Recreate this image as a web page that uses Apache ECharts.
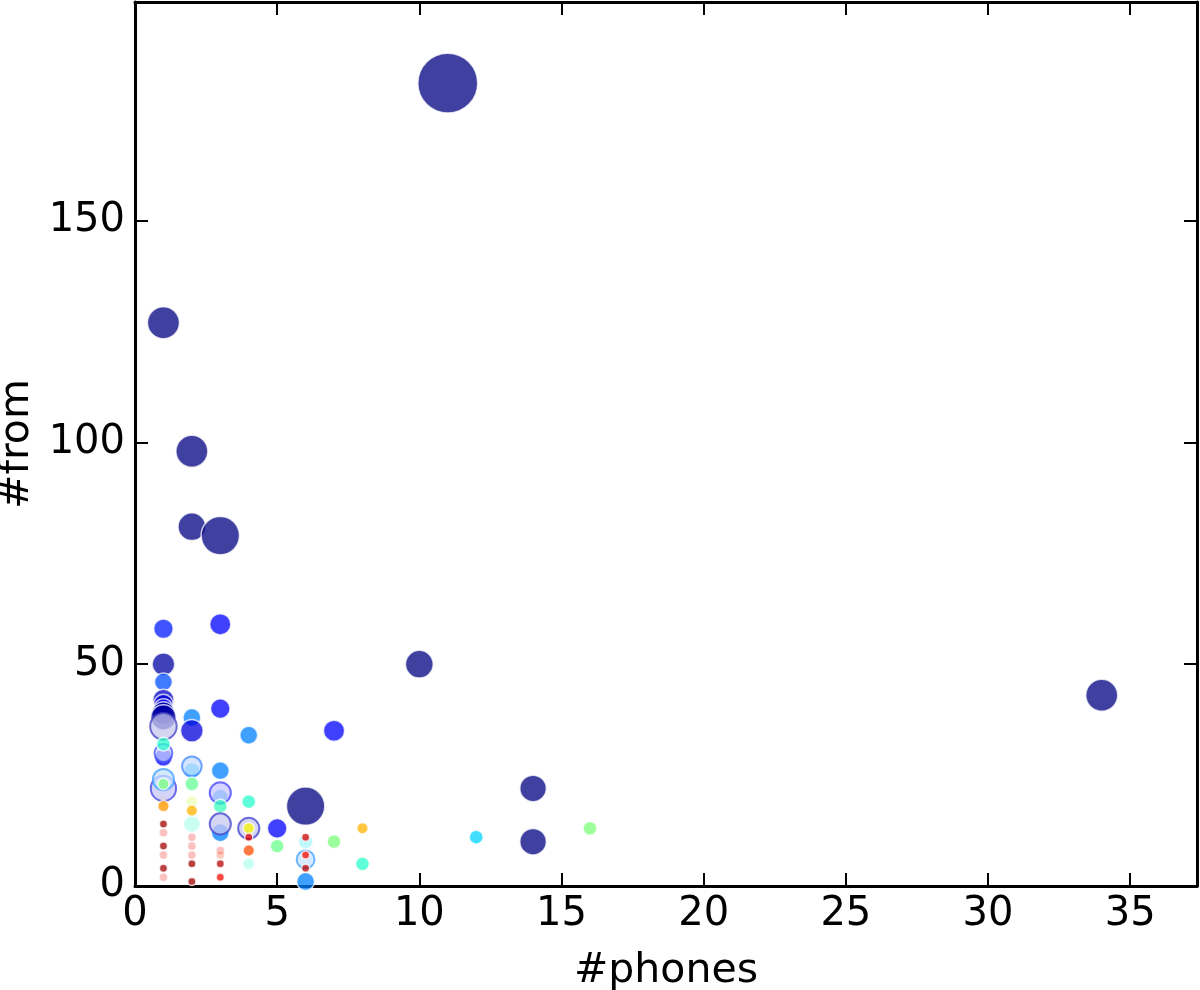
<!DOCTYPE html>
<html>
<head>
<meta charset="utf-8">
<script src="https://cdn.jsdelivr.net/npm/echarts@6/dist/echarts.min.js"></script>
<style>
html,body{margin:0;padding:0;background:#fff;}
#chart{width:1200px;height:990px;}
</style>
</head>
<body>
<div id="chart"></div>
<script>
// ---- data ----
// x = #phones, y = #from, count -> bubble area, ratio -> colour (jet), hollow -> pale ring marker
const phones = [11,1,2,2,3,34,10,6,14,14,1,
  7,3,3,5,1,1,1,1,1,1,1,1,2,2,4,3,6,
  1,1,1,1,1,1,1,1,1,1,
  2,2,2,2,2,2,
  3,3,3,3,3,3,3,
  4,4,4,4,4,5,6,6,6,6,7,8,8,12,16];
const fromCounts = [181,127,98,81,79,43,50,18,22,10,50,
  35,59,40,13,58,46,42,41,40,39,38,36,38,35,34,26,1,
  29,30,32,22,24,23,18,14,9,4,
  26,27,23,17,5,1,
  20,21,18,12,14,5,2,
  19,13,13,11,8,9,11,6,7,4,10,13,5,11,13];
const counts = [56,16,16,12,23,16,12,23,11,11,8,
  7,7,6,6,6,5,7,6,6,8,10,11,5,8,5,5,5,
  5,5,3,10,7,2,2,1,1,1,
  4,6,3,2,1,1,
  4,7,3,5,7,1,1,
  3,7,2,1,2,3,1,5,1,1,3,2,3,3,3];
const ratios = [0,0,0,0,0,0,0,0,0,0,0.03,
  0.11,0.11,0.11,0.11,0.15,0.2,0.06,0.08,0.1,0.03,0.03,0.04,0.25,0.08,0.25,0.25,0.25,
  0.12,0.15,0.4,0.08,0.25,0.5,0.75,0.97,0.97,0.97,
  0.3,0.22,0.47,0.72,0.97,0.97,
  0.28,0.12,0.42,0.25,0.05,0.95,0.9,
  0.4,0.05,0.65,0.92,0.83,0.48,0.92,0.25,0.9,0.95,0.5,0.72,0.4,0.33,0.5];
const hollow = [0,0,0,0,0,0,0,0,0,0,0,
  0,0,0,0,0,0,0,0,0,0,0,1,0,0,0,0,0,
  0,1,0,1,1,0,0,0,0,0,
  0,1,0,0,0,0,
  0,1,0,0,1,0,0,
  0,1,0,0,0,0,0,1,0,0,0,0,0,0,0];

// faint (mostly hidden) points
const fadedPhones = [1,1,1,1,2,2,2,2,2,3,3,4,6];
const fadedFrom   = [19,12,7,2,19,14,11,9,7,8,7,5,10];
const fadedCounts = [2,1,1,1,2,4,1,1,1,1,1,2,3];
const fadedRatios = [0.7,0.9,0.9,0.9,0.6,0.4,0.9,0.9,0.9,0.9,0.85,0.4,0.35];

const xTicks = [0,5,10,15,20,25,30,35];
const yTicks = [0,50,100,150];
const xMax = 37.35, yMax = 199.3;

// ---- jet colormap ----
function jet(t){
  t = Math.max(0, Math.min(1, t));
  const r = Math.max(0, Math.min(1, t < 0.35 ? 0 : t < 0.66 ? (t-0.35)/0.31 : t < 0.89 ? 1 : 1-(t-0.89)/0.11*0.5));
  const g = Math.max(0, Math.min(1, t < 0.125 ? 0 : t < 0.375 ? (t-0.125)/0.25 : t < 0.64 ? 1 : t < 0.91 ? 1-(t-0.64)/0.27 : 0));
  const b = Math.max(0, Math.min(1, t < 0.11 ? 0.5+t/0.11*0.5 : t < 0.34 ? 1 : t < 0.65 ? 1-(t-0.34)/0.31 : 0));
  return [Math.round(r*255), Math.round(g*255), Math.round(b*255)];
}
const rgb = (c)=>'rgb('+c[0]+','+c[1]+','+c[2]+')';
const tint = (c,k)=>'rgb('+c.map(v=>Math.round(255-(255-v)*k)).join(',')+')';

const mainData = phones.map((x,i)=>{
  const item = {value:[x, fromCounts[i], counts[i], ratios[i]]};
  if (hollow[i]) {
    const c = jet(ratios[i]);
    item.itemStyle = {color:tint(c,0.22), borderColor:tint(c,0.75), borderWidth:2, opacity:0.75};
  }
  return item;
});
const fadedData = fadedPhones.map((x,i)=>[x, fadedFrom[i], fadedCounts[i], fadedRatios[i]]);

const font = 'DejaVu Sans';
const axisCommon = {
  type:'value', min:0,
  axisLine:{show:true, onZero:false, lineStyle:{color:'#000', width:3}},
  axisTick:{show:true, inside:true, length:13, lineStyle:{color:'#000', width:2}},
  splitLine:{show:false}
};
const fmt = (ticks)=> (v)=> (Math.abs(v-Math.round(v))<1e-6 && ticks.indexOf(Math.round(v))>=0) ? String(Math.round(v)) : '';

const chart = echarts.init(document.getElementById('chart'), null, {renderer:'canvas'});
chart.setOption({
  animation:false,
  backgroundColor:'#fff',
  grid:{left:135, right:3, top:2, bottom:104, show:false, containLabel:false, outerBoundsMode:'none'},
  xAxis:[
    Object.assign({}, axisCommon, {max:xMax, interval:5, position:'bottom',
      name:'#phones', nameLocation:'middle', nameGap:65,
      nameTextStyle:{fontFamily:font, fontSize:41, color:'#000'},
      axisLabel:{show:true, margin:9, fontFamily:font, fontSize:40, color:'#000', showMaxLabel:false, formatter:fmt(xTicks)}}),
    Object.assign({}, axisCommon, {max:xMax, interval:5, position:'top', axisLabel:{show:false}})
  ],
  yAxis:[
    Object.assign({}, axisCommon, {max:yMax, interval:50, position:'left',
      name:'#from', nameLocation:'middle', nameGap:93,
      nameTextStyle:{fontFamily:font, fontSize:41, color:'#000'},
      axisLabel:{show:true, margin:10, fontFamily:font, fontSize:40, color:'#000', showMaxLabel:false, formatter:fmt(yTicks)}}),
    Object.assign({}, axisCommon, {max:yMax, interval:50, position:'right', axisLabel:{show:false}})
  ],
  series:[
    {
      type:'scatter', xAxisIndex:0, yAxisIndex:0,
      data:fadedData,
      symbolSize:(v)=>8*Math.sqrt(v[2]),
      itemStyle:{color:(p)=>rgb(jet(p.value[3])), opacity:0.25, borderColor:'#fff', borderWidth:1.5},
      emphasis:{disabled:true}
    },
    {
      type:'scatter', xAxisIndex:0, yAxisIndex:0,
      data:mainData,
      symbolSize:(v)=>8*Math.sqrt(v[2]),
      itemStyle:{color:(p)=>rgb(jet(p.value[3])), opacity:0.75, borderColor:'#fff', borderWidth:1.5},
      emphasis:{disabled:true}
    }
  ]
});
</script>
</body>
</html>
